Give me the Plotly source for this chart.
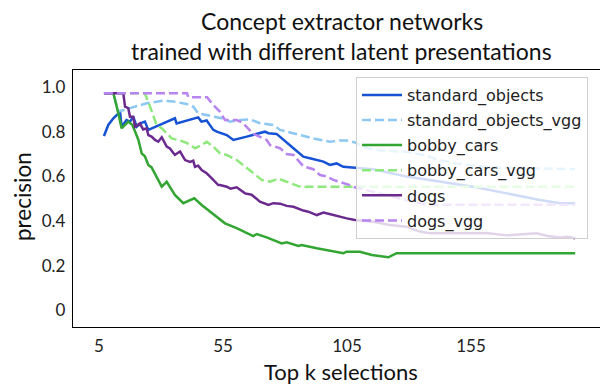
import plotly.graph_objects as go

# ---- data ----
so_k = [7, 8.75, 10.8, 12.8, 13.5, 14.1, 16.1, 17.5, 18.8, 20.2, 22.2, 23.5, 24.9, 30.9, 35.6, 36.3, 40.3, 45, 46.3,
        48.4, 51.1, 52.5, 56.5, 59.2, 64.6, 71.9, 73.3, 76.6, 83.4, 87.4, 90, 92.8, 95.5, 98.1, 100.8, 103.5, 108.9,
        115.6, 129, 142.5, 155.9, 169.4, 182.8, 190.9, 197]
so_p = [0.781, 0.83, 0.86, 0.882, 0.889, 0.822, 0.852, 0.845, 0.867, 0.822, 0.84, 0.845, 0.808, 0.837, 0.86, 0.837,
        0.848, 0.864, 0.845, 0.85, 0.808, 0.8, 0.785, 0.763, 0.778, 0.8, 0.793, 0.79, 0.726, 0.688, 0.681, 0.673,
        0.666, 0.651, 0.658, 0.643, 0.639, 0.632, 0.599, 0.576, 0.554, 0.524, 0.494, 0.48, 0.48]

sov_k = [7, 10.8, 12.8, 17.5, 24.2, 30.9, 35, 40.3, 43, 45, 51.1, 54.5, 57.8, 61.9, 65.9, 69.9, 75.3, 78, 80.7, 86.1,
         91.4, 98.1, 102, 104.9, 108.2, 112.9, 119.6, 129, 135.8, 142.5, 149.2, 162.6, 197]
sov_p = [0.972, 0.972, 0.89, 0.905, 0.927, 0.939, 0.935, 0.924, 0.912, 0.882, 0.867, 0.86, 0.845, 0.852, 0.855, 0.838,
         0.83, 0.808, 0.8, 0.785, 0.77, 0.755, 0.76, 0.76, 0.752, 0.726, 0.715, 0.71, 0.696, 0.673, 0.658, 0.64, 0.632]

bc_k = [7, 10.8, 12.8, 14.1, 16.8, 18.5, 20.9, 22.2, 23.5, 24.9, 26.2, 30.3, 32.3, 35.6, 39, 41, 43.4, 46.4, 51.8,
        55.8, 60.5, 67.2, 68.6, 72.6, 78.7, 80.7, 85.4, 86.7, 92.8, 99.5, 103.5, 104.9, 110.2, 115, 121.7, 125, 197]
bc_p = [0.972, 0.972, 0.882, 0.815, 0.845, 0.83, 0.763, 0.703, 0.69, 0.651, 0.64, 0.554, 0.576, 0.517, 0.48, 0.49,
        0.502, 0.472, 0.427, 0.39, 0.368, 0.333, 0.342, 0.327, 0.3, 0.305, 0.289, 0.293, 0.278, 0.263, 0.256, 0.263,
        0.263, 0.248, 0.238, 0.256, 0.256]

bcv_k = [7, 23.5, 25.6, 26.9, 28.2, 30.3, 34.3, 37.7, 40.3, 43.7, 46.4, 48.4, 51.1, 53.8, 56.5, 60.5, 63.2, 67.2,
         70.6, 74, 77.3, 80.7, 84.7, 86.7, 88.7, 197]
bcv_p = [0.972, 0.972, 0.912, 0.867, 0.83, 0.815, 0.77, 0.76, 0.75, 0.726, 0.74, 0.755, 0.733, 0.703, 0.696, 0.673,
         0.651, 0.615, 0.584, 0.576, 0.59, 0.576, 0.557, 0.551, 0.554, 0.554]

dg_k = [7, 14.8, 15.5, 16.8, 17.5, 18.8, 19.5, 21.5, 22.8, 24.2, 24.9, 26.2, 27.6, 28.9, 30.3, 32.3, 33.6, 35.6,
        37.7, 39.7, 41.7, 43, 43.7, 45, 46.4, 48.4, 49.8, 51.1, 53.1, 53.8, 56.5, 58, 60.5, 63.9, 66.5, 69.9, 73.3,
        75.3, 78, 80.7, 83.4, 87.4, 89.4, 92.8, 95.5, 97.5, 100.8, 104.9, 108.2, 115.6, 122.3, 129, 134.4, 138.5,
        142.5, 151.2, 155.9, 162, 169.4, 174.7, 181.5, 186, 190.9, 194, 197]
dg_p = [0.972, 0.972, 0.912, 0.905, 0.867, 0.867, 0.822, 0.837, 0.81, 0.815, 0.785, 0.778, 0.763, 0.755, 0.775,
        0.733, 0.725, 0.696, 0.711, 0.673, 0.665, 0.67, 0.643, 0.648, 0.628, 0.614, 0.599, 0.584, 0.561, 0.561,
        0.554, 0.545, 0.551, 0.524, 0.518, 0.487, 0.472, 0.48, 0.478, 0.468, 0.464, 0.447, 0.442, 0.427, 0.438,
        0.433, 0.423, 0.412, 0.405, 0.397, 0.382, 0.375, 0.353, 0.345, 0.345, 0.345, 0.348, 0.345, 0.336, 0.34,
        0.345, 0.333, 0.326, 0.33, 0.323]

dgv_k = [7, 40.5, 41, 48.6, 51.1, 53.8, 55.8, 60.5, 61.9, 63.2, 67.2, 72.6, 74, 78, 80.7, 83.4, 87.4, 89, 91.4,
         94.1, 96.8, 99.5, 102.2, 106.2, 108.2, 115.6, 129, 137.1, 197]
dgv_p = [0.972, 0.972, 0.954, 0.954, 0.919, 0.889, 0.852, 0.852, 0.845, 0.837, 0.79, 0.763, 0.74, 0.726, 0.7, 0.696,
         0.645, 0.64, 0.632, 0.606, 0.6, 0.584, 0.576, 0.561, 0.551, 0.53, 0.494, 0.473, 0.473]

series_names = ["standard_objects", "standard_objects_vgg", "bobby_cars", "bobby_cars_vgg", "dogs", "dogs_vgg"]
series_x = [so_k, sov_k, bc_k, bcv_k, dg_k, dgv_k]
series_y = [so_p, sov_p, bc_p, bcv_p, dg_p, dgv_p]
series_colors = ["#1652d4", "#8cc8f2", "#33a532", "#8ee87c", "#6b2a8e", "#b784f0"]
series_dash = ["solid", "9px,4px", "solid", "9px,4px", "solid", "9px,4px"]

x_ticks = [5, 55, 105, 155]
y_ticks = [0, 0.2, 0.4, 0.6, 0.8, 1.0]
y_tick_text = ["0", "0.2", "0.4", "0.6", "0.8", "1.0"]

title_lines = ["Concept extractor networks", "trained with different latent presentations"]
x_title = "Top k selections"
y_title = "precision"

# ---- layout geometry ----
W, H = 600, 386
L, R, T, B = 73, 0, 70, 59
pw, ph = W - L - R, H - T - B


def px(x):
    return (x - L) / pw


def py(y):
    return (H - B - y) / ph


FONT = "Lato"

fig = go.Figure()
for i, name in enumerate(series_names):
    fig.add_trace(go.Scatter(
        x=series_x[i], y=series_y[i], mode="lines", name=name,
        legendgroup=name,
        line=dict(color=series_colors[i], width=2.5, dash=series_dash[i]),
    ))

fig.update_layout(
    width=W, height=H,
    margin=dict(l=L, r=R, t=T, b=B, pad=0),
    paper_bgcolor="white", plot_bgcolor="white",
    showlegend=True,
    legend=dict(
        x=px(356), y=py(77), xanchor="left", yanchor="top",
        bgcolor="rgba(255,255,255,0.8)", bordercolor="#d0d0d0", borderwidth=1,
        font=dict(family="DejaVu Sans", size=16, color="#222"),
        tracegroupgap=1.3, itemwidth=40,
    ),
    xaxis=dict(
        range=[-5.48, 207.0], tickvals=x_ticks, ticktext=[str(v) for v in x_ticks],
        showgrid=False, zeroline=False, showline=True, mirror=True,
        linecolor="black", linewidth=1.3,
        ticks="outside", ticklen=3, tickcolor="rgba(0,0,0,0)",
        tickfont=dict(family=FONT, size=17, color="#222"),
    ),
    yaxis=dict(
        range=[-0.074, 1.076], tickvals=y_ticks, ticktext=y_tick_text,
        showgrid=False, zeroline=False, showline=True, mirror=False,
        linecolor="black", linewidth=1.3,
        ticks="outside", ticklen=3, tickcolor="rgba(0,0,0,0)",
        tickfont=dict(family=FONT, size=17, color="#222"),
    ),
)

anns = [
    dict(text=title_lines[0], x=px(341.7), y=py(21), font=dict(size=23)),
    dict(text=title_lines[1], x=px(341.7), y=py(51), font=dict(size=23)),
    dict(text=x_title, x=px(341), y=py(371.5), font=dict(size=22)),
    dict(text=y_title, x=px(22), y=py(197), font=dict(size=22.5), textangle=-90),
]
for a in anns:
    a["font"].update(family=FONT, color="#111")
    fig.add_annotation(xref="paper", yref="paper", xanchor="center", yanchor="middle",
                       showarrow=False, **a)

fig.write_html("out.html")
